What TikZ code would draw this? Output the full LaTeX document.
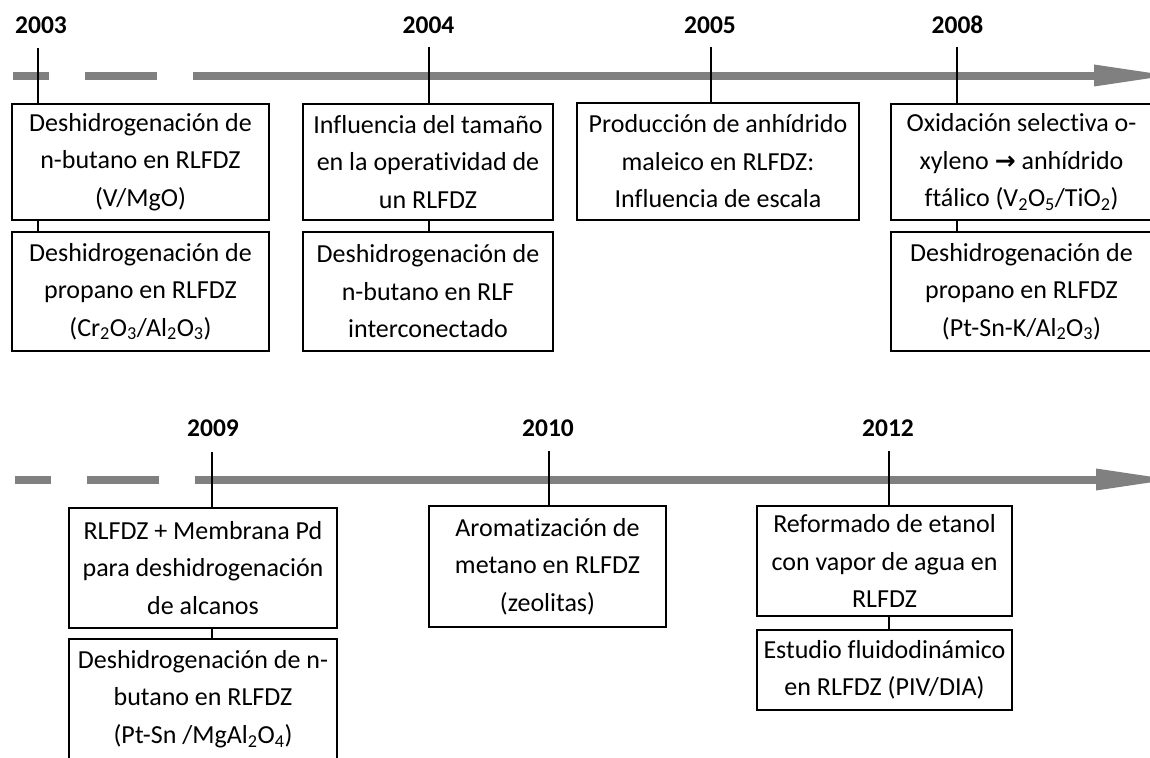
\documentclass[tikz,border=0pt]{standalone}
\usepackage{fontspec}
\setmainfont{Carlito}[Ligatures={NoCommon,NoRequired,NoContextual}]
\newfontfamily\arrowfont{DejaVu Sans}
\definecolor{tlgray}{RGB}{128,128,128}
\begin{document}
\begin{tikzpicture}[x=1pt,y=-1pt,
  evbox/.style={draw=black, line width=1.8pt, fill=white, align=center, inner sep=0pt,
    font=\fontsize{26}{37.5}\selectfont},
  yearlbl/.style={inner sep=0pt, font=\fontsize{25.5}{30}\selectfont\bfseries},
  ticker/.style={draw=black, line width=2pt},
  tlseg/.style={draw=tlgray, line width=8pt},
  tlhead/.style={fill=tlgray}
]
\useasboundingbox (0,0) rectangle (1150,757);
\clip (0,0) rectangle (1150,757);

% ---------- row 1 timeline ----------
\coordinate (r1d1s) at (13,76);  \coordinate (r1d1e) at (49,76);
\coordinate (r1d2s) at (85,76);  \coordinate (r1d2e) at (157,76);
\coordinate (r1s)   at (193,76); \coordinate (r1e)   at (1096,76);
\draw[tlseg] (r1d1s) -- (r1d1e);
\draw[tlseg] (r1d2s) -- (r1d2e);
\draw[tlseg] (r1s) -- (r1e);
\fill[tlhead] (1094,64.5) -- (1168,75.5) -- (1094,86.5) -- cycle;

% ---------- row 2 timeline ----------
\coordinate (r2d1s) at (15,480);  \coordinate (r2d1e) at (51,480);
\coordinate (r2d2s) at (87,480);  \coordinate (r2d2e) at (159,480);
\coordinate (r2s)   at (195,480); \coordinate (r2e)   at (1098,480);
\draw[tlseg] (r2d1s) -- (r2d1e);
\draw[tlseg] (r2d2s) -- (r2d2e);
\draw[tlseg] (r2s) -- (r2e);
\fill[tlhead] (1096,468.5) -- (1170,479.5) -- (1096,490.5) -- cycle;

% ---------- year labels ----------
\node[yearlbl] (y2003) at (41,25) {2003};
\node[yearlbl] (y2004) at (428.5,25) {2004};
\node[yearlbl] (y2005) at (710,25) {2005};
\node[yearlbl] (y2008) at (957.5,25) {2008};
\node[yearlbl] (y2009) at (213,428) {2009};
\node[yearlbl] (y2010) at (548,428) {2010};
\node[yearlbl] (y2012) at (888,428) {2012};

% ---------- boxes row 1 ----------
\node[evbox, minimum width=257pt, minimum height=116pt] (b2003a) at (140.5,162)
  {Deshidrogenación de\\ n-butano en RLFDZ\\ (V/MgO)};
\node[evbox, minimum width=257pt, minimum height=119pt] (b2003b) at (140.5,291.5)
  {Deshidrogenación de\\ propano en RLFDZ\\ (Cr\textsubscript{2}O\textsubscript{3}/Al\textsubscript{2}O\textsubscript{3})};
\node[evbox, minimum width=250pt, minimum height=116pt] (b2004a) at (428,162)
  {Influencia del tamaño\\ en la operatividad de\\ un RLFDZ};
\node[evbox, minimum width=250pt, minimum height=119pt] (b2004b) at (428,291.5)
  {Deshidrogenación de\\ n-butano en RLF\\ interconectado};
\node[evbox, minimum width=282pt, minimum height=117pt] (b2005) at (718,161.5)
  {Producción de anhídrido\\ maleico en RLFDZ:\\ Influencia de escala};
\node[evbox, minimum width=261pt, minimum height=116pt] (b2008a) at (1021.5,162)
  {Oxidación selectiva o-\\ xyleno {\arrowfont\bfseries\fontsize{25}{26}\selectfont →} anhídrido\\ ftálico (V\textsubscript{2}O\textsubscript{5}/TiO\textsubscript{2})};
\node[evbox, minimum width=261pt, minimum height=119pt] (b2008b) at (1021.5,291.5)
  {Deshidrogenación de\\ propano en RLFDZ\\ (Pt-Sn-K/Al\textsubscript{2}O\textsubscript{3})};

% ---------- boxes row 2 ----------
\node[evbox, minimum width=268pt, minimum height=120pt] (b2009a) at (203,568)
  {RLFDZ + Membrana Pd\\ para deshidrogenación\\ de alcanos};
\node[evbox, minimum width=268pt, minimum height=120pt] (b2009b) at (203,699)
  {Deshidrogenación de n-\\ butano en RLFDZ\\ (Pt-Sn /MgAl\textsubscript{2}O\textsubscript{4})};
\node[evbox, minimum width=237pt, minimum height=121pt] (b2010) at (547.5,566.5)
  {Aromatización de\\ metano en RLFDZ\\ (zeolitas)};
\node[evbox, minimum width=255pt, minimum height=110pt] (b2012a) at (884.5,561)
  {Reformado de etanol\\ con vapor de agua en\\ RLFDZ};
\node[evbox, minimum width=255pt, minimum height=80pt] (b2012b) at (884.5,670)
  {Estudio fluidodinámico\\ en RLFDZ (PIV/DIA)};

% ---------- ticks ----------
\coordinate (t2003) at (38,48);
\coordinate (t2004) at (429,47);
\coordinate (t2005) at (711,47);
\coordinate (t2008) at (957,47);
\coordinate (t2009) at (212,452);
\coordinate (t2010) at (549,451);
\coordinate (t2012) at (889,451);

\draw[ticker] (t2003) -- (t2003 |- b2003a.north);
\draw[ticker] (t2003 |- b2003a.south) -- (t2003 |- b2003b.north);
\draw[ticker] (t2004) -- (t2004 |- b2004a.north);
\draw[ticker] (t2004 |- b2004a.south) -- (t2004 |- b2004b.north);
\draw[ticker] (t2005) -- (t2005 |- b2005.north);
\draw[ticker] (t2008) -- (t2008 |- b2008a.north);
\draw[ticker] (t2008 |- b2008a.south) -- (t2008 |- b2008b.north);
\draw[ticker] (t2009) -- (t2009 |- b2009a.north);
\draw[ticker] (t2009 |- b2009a.south) -- (t2009 |- b2009b.north);
\draw[ticker] (t2010) -- (t2010 |- b2010.north);
\draw[ticker] (t2012) -- (t2012 |- b2012a.north);
\draw[ticker] (t2012 |- b2012a.south) -- (t2012 |- b2012b.north);
\end{tikzpicture}
\end{document}
